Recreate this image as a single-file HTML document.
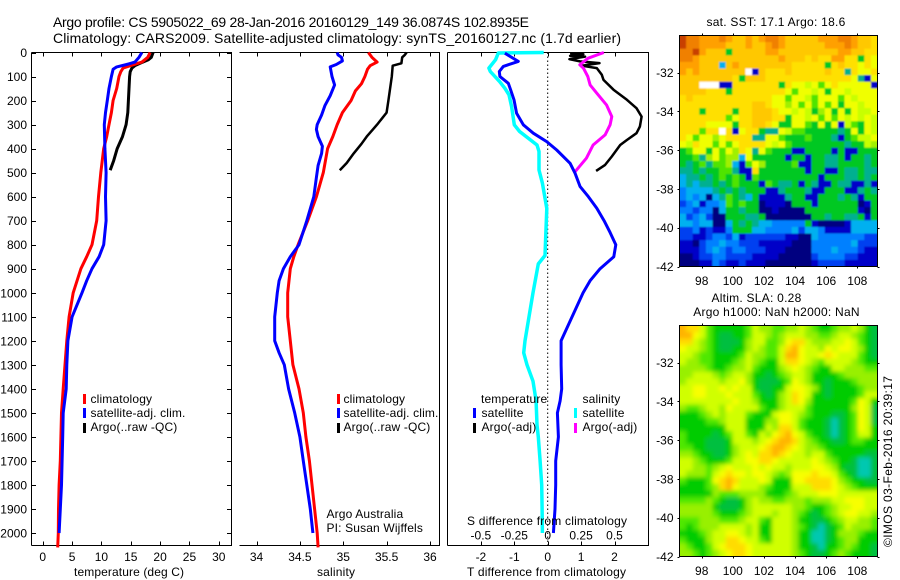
<!DOCTYPE html>
<html lang="en">
<head>
<meta charset="utf-8">
<title>Argo profile CS 5905022_69</title>
<style>
html,body{margin:0;padding:0;background:#fff;}
svg{display:block;font-family:"Liberation Sans",sans-serif;font-size:12px;fill:#000;}
.frame line,.tick{stroke:#000;stroke-width:1;shape-rendering:crispEdges;}
.title{font-size:14px;}
.wide{letter-spacing:0.25px;}
.leg{letter-spacing:0.15px;}
.trace{fill:none;stroke-linejoin:round;stroke-linecap:butt;}
</style>
</head>
<body>
<svg id="chart" xmlns="http://www.w3.org/2000/svg" width="900" height="580" viewBox="0 0 900 580">
  <defs>
    <clipPath id="sst-clip"><rect x="679.5" y="35.5" width="198" height="231"/></clipPath>
    <clipPath id="sla-clip"><rect x="679.5" y="325.5" width="198" height="231"/></clipPath>
    <filter id="sst-smooth" x="-10%" y="-10%" width="120%" height="120%"><feGaussianBlur stdDeviation="0.8"/></filter>
    <filter id="sla-smooth" x="-10%" y="-10%" width="120%" height="120%"><feGaussianBlur stdDeviation="2"/></filter>
  </defs>

  <text class="title" x="53" y="27" textLength="476" lengthAdjust="spacing">Argo profile: CS 5905022_69 28-Jan-2016 20160129_149 36.0874S 102.8935E</text>
  <text class="title" x="53" y="43" textLength="568" lengthAdjust="spacing">Climatology: CARS2009. Satellite-adjusted climatology: synTS_20160127.nc (1.7d earlier)</text>

  <g id="temp-panel"></g>
  <g id="sal-panel"></g>
  <g id="diff-panel"></g>

  <g clip-path="url(#sst-clip)"><g id="sst-cells" filter="url(#sst-smooth)"></g></g>
  <g clip-path="url(#sla-clip)"><g id="sla-cells" filter="url(#sla-smooth)"></g></g>
  <g id="map-axes"></g>

  <text x="74" y="576" textLength="110" lengthAdjust="spacing">temperature (deg C)</text>
  <text x="317" y="576" textLength="38" lengthAdjust="spacing">salinity</text>
  <text x="467" y="576" textLength="159" lengthAdjust="spacing">T difference from climatology</text>
  <text x="467" y="525" textLength="160" lengthAdjust="spacing">S difference from climatology</text>

  <g class="leg">
    <rect x="83" y="394" width="3" height="10" fill="#f00"/>
    <text x="90.5" y="403">climatology</text>
    <rect x="83" y="408" width="3" height="10" fill="#00f"/>
    <text x="90.5" y="417">satellite-adj. clim.</text>
    <rect x="83" y="423" width="3" height="10" fill="#000"/>
    <text x="90.5" y="431">Argo(..raw -QC)</text>
  </g>
  <g class="leg">
    <rect x="337" y="394" width="3" height="10" fill="#f00"/>
    <text x="343.5" y="403">climatology</text>
    <rect x="337" y="408" width="3" height="10" fill="#00f"/>
    <text x="343.5" y="417">satellite-adj. clim.</text>
    <rect x="337" y="423" width="3" height="10" fill="#000"/>
    <text x="343.5" y="431">Argo(..raw -QC)</text>
    <text x="326.5" y="518">Argo Australia</text>
    <text x="326.5" y="532">PI: Susan Wijffels</text>
  </g>
  <g class="leg">
    <text x="481" y="403">temperature</text>
    <rect x="473" y="408" width="3" height="10" fill="#00f"/>
    <text x="481.5" y="417">satellite</text>
    <rect x="473" y="423" width="3" height="10" fill="#000"/>
    <text x="481.5" y="431">Argo(-adj)</text>
    <text x="582.5" y="403">salinity</text>
    <rect x="574" y="408" width="3" height="10" fill="#0ff"/>
    <text x="582.5" y="417">satellite</text>
    <rect x="574" y="423" width="3" height="10" fill="#f0f"/>
    <text x="582.5" y="431">Argo(-adj)</text>
  </g>

  <text class="wide" x="776" y="26" text-anchor="middle">sat. SST: 17.1 Argo: 18.6</text>
  <text class="wide" x="756.5" y="302" text-anchor="middle">Altim. SLA: 0.28</text>
  <text class="wide" x="776.5" y="316" text-anchor="middle">Argo h1000: NaN h2000: NaN</text>
  <text transform="translate(892,547) rotate(-90)" textLength="171" lengthAdjust="spacing">©IMOS 03-Feb-2016 20:39:17</text>
</svg>

<script>
// ---- depth axis ----
var depthTicks = [0,100,200,300,400,500,600,700,800,900,1000,1100,1200,1300,1400,1500,1600,1700,1800,1900,2000];

// ---- temperature panel (deg C) ----
var tempTicks = [0,5,10,15,20,25,30];
var tempClimDepth = [0,20,40,55,65,80,100,150,200,250,300,350,400,500,600,700,800,850,900,1000,1100,1200,1300,1400,1500,1600,1700,1800,1900,2000,2060];
var tempClim = [18.3,17.9,16.9,14.9,13.7,13.3,13.0,12.6,12.0,11.7,11.3,10.9,10.4,9.9,9.5,9.2,8.4,7.5,6.5,5.2,4.5,4.1,3.8,3.5,3.2,3.1,3.0,2.8,2.7,2.66,2.55];
var tempSatDepth = [0,20,40,50,60,70,100,150,200,250,300,400,500,600,700,800,850,900,950,1000,1100,1200,1300,1400,1500,1600,1700,1800,1900,2000];
var tempSat = [16.9,16.4,15.7,14.3,12.6,12.0,11.7,11.3,11.0,10.7,10.5,10.6,10.8,10.7,10.8,10.4,9.6,8.4,7.5,6.7,5.0,4.3,4.1,4.0,3.5,3.4,3.3,3.2,3.0,2.8];
var tempArgoDepth = [0,20,30,45,55,65,80,100,150,200,250,300,350,400,450,490];
var tempArgo = [18.8,18.5,18.0,16.6,15.7,15.2,14.9,14.8,14.7,14.6,14.5,14.2,13.6,12.7,12.1,11.5];

// ---- salinity panel ----
var salTicks = [34,34.5,35,35.5,36];
var salClimDepth = [0,20,40,55,70,100,130,160,200,250,300,350,400,500,600,700,800,850,900,1000,1100,1200,1300,1400,1500,1600,1700,1800,1900,2000,2060];
var salClim = [35.29,35.33,35.39,35.31,35.28,35.25,35.21,35.14,35.09,34.99,34.93,34.88,34.82,34.77,34.69,34.59,34.48,34.43,34.39,34.36,34.36,34.39,34.42,34.49,34.54,34.57,34.61,34.64,34.67,34.70,34.71];
var salSatDepth = [0,10,20,35,50,60,100,135,180,220,260,300,320,350,390,420,470,520,600,700,800,850,900,950,1000,1100,1200,1250,1300,1400,1500,1600,1700,1800,1900,2000];
var salSat = [34.93,34.94,34.98,34.99,34.92,34.85,34.87,34.90,34.85,34.79,34.75,34.70,34.69,34.71,34.76,34.75,34.71,34.69,34.66,34.58,34.49,34.39,34.31,34.26,34.24,34.21,34.21,34.26,34.32,34.37,34.44,34.50,34.54,34.58,34.62,34.65];
var salArgoDepth = [0,10,20,45,55,100,150,200,250,300,350,380,420,460,490];
var salArgo = [35.73,35.71,35.68,35.67,35.57,35.56,35.54,35.52,35.50,35.39,35.27,35.21,35.12,35.04,34.96];

// ---- difference panel ----
var diffTTicks = [-2,-1,0,1,2];
var diffSTicks = [-0.5,-0.25,0,0.25,0.5];
var diffTSatDepth = [3,37,58,79,100,128,155,197,253,301,336,371,406,461,503,558,600,648,700,750,800,850,900,950,1000,1100,1200,1300,1400,1450,1500,1600,1700,1800,1900,2000];
var diffTSat = [-1.28,-0.88,-1.33,-1.45,-1.43,-1.18,-1.11,-1.01,-0.93,-0.73,-0.43,-0.03,0.27,0.67,0.82,0.97,1.22,1.47,1.69,1.87,2.04,1.98,1.57,1.27,1.06,0.73,0.40,0.40,0.42,0.37,0.29,0.32,0.24,0.24,0.22,0.17];
var diffTArgoDepth = [3,7,14,17,28,37,44,55,65,93,114,155,197,232,267,308,336,364,385,433,468,493];
var diffTArgo = [0.67,1.07,0.67,1.12,0.65,0.97,1.55,1.02,1.47,1.62,1.67,1.97,2.37,2.66,2.81,2.76,2.66,2.37,2.17,1.92,1.72,1.45];
var diffSSatDepth = [0,2,30,65,79,121,149,176,225,301,329,357,385,412,489,544,649,845,880,1000,1100,1200,1250,1300,1368,1450,1550,1600,1700,1800,1900,2000];
var diffSSat = [-0.03,-0.37,-0.39,-0.44,-0.43,-0.36,-0.32,-0.29,-0.27,-0.25,-0.21,-0.145,-0.08,-0.065,-0.065,-0.04,-0.007,-0.02,-0.07,-0.11,-0.14,-0.17,-0.18,-0.155,-0.11,-0.087,-0.08,-0.07,-0.057,-0.045,-0.042,-0.04];
var diffSArgoDepth = [0,24,51,65,100,135,169,218,267,301,343,385,440,496];
var diffSArgo = [0.42,0.30,0.24,0.267,0.30,0.317,0.367,0.44,0.48,0.467,0.43,0.34,0.29,0.205];

// ---- maps: each row holds one colour-class digit per grid cell ----
var lonTicks = [98,100,102,104,106,108];
var latTicks = [-32,-34,-36,-38,-40,-42];
var sstColors = {0:'#000080',1:'#0000c8',2:'#0040f0',3:'#0080ff',4:'#00b0f0',5:'#00b090',6:'#00c820',7:'#50e400',8:'#a0f000',9:'#c8ff00',a:'#f0ff00',b:'#ffe000',c:'#ffc800',d:'#ffa000',e:'#f08000',f:'#c84000',W:'#ffffff'};
var slaColors = {4:'#00c8b0',5:'#00bf40',6:'#00cc00',7:'#50e800',8:'#98f000',9:'#d0ff00',a:'#f8ff00',b:'#ffdc00',c:'#ffb400'};
var sstRows = [
"feedd dedcc dcdee dcccc cddde edccb",
"feedd ddccc dccde dcccc ccddd edccb",
"eefdc cc6cc cccdd ccccc ccccd dccbb",
"eedcc ccccc ccccc dcccb cbbdd bb6ba",
"dddcc c4cdc ccccc ccbbb bb6bc bbaba",
"dcdcc ccccc W1cbb bcbbb bbcbb 5baab",
"ccccc cccb6 cccbb bbbbb bbbbb ba51a",
"cccWW W11bb bbbbb 6baa9 a7aba aaaa1",
"ccccb bb6bb bbbbb ba7aa 9a6aa 9aaaa",
"bcbbb bbbbb bbbba a7aa9 7aaa7 a9aaa",
"bbbbb bbbbb bccba a8a7a 7a7a6 aa9aa",
"bbb6b bbb6b bcccb aa9a9 68a6a 6a99a",
"bbbbb bb7ab bcccb b6aa9 a7a7a 9a9a9",
"bbbba aaa6b bccba 66aa7 6a6a1 976a9",
"bbb7b bWb1a bb655 a9776 66665 6a6a9",
"ba7aa 8abbb b55aa 76667 66651 6799a",
"a9baa 7a7ab bbba9 a7666 66666 56698",
"67aa6 a7a8b a5a76 66116 66616 11666",
"66758 a7884 a6666 61661 66556 16656",
"65675 77841 7a866 66711 66556 66656",
"55656 67751 1b666 66661 66116 55655",
"45565 67676 17666 66666 61666 55656",
"45455 65676 66176 55616 51165 51151",
"34444 56565 66611 56665 11666 11565",
"34340 45765 46111 15661 16665 65166",
"23413 34767 66011 10666 16666 66016",
"33233 04665 66001 00006 66666 66106",
"42342 00666 55600 00000 66566 55616",
"44344 00465 65443 33336 10000 14444",
"22312 11366 64433 33424 43111 14444",
"22112 33241 22222 21100 43333 33322",
"11023 34332 22111 11000 33333 34222",
"11123 43233 22211 10000 33343 33211",
"00122 33222 21111 00000 23333 22111",
"00011 32112 11100 00000 12222 11111"
];
var slaRows = [
"cbb97 66666 79887 78898 76678 89865",
"cca97 65566 79987 89998 87789 98765",
"bb987 65556 89977 8abb9 88899 a9765",
"a9987 65566 89877 9bca9 98a9a a9865",
"99877 66667 98877 9cca9 9aba9 99765",
"98877 66678 98766 9bba9 87999 98766",
"88887 66788 97666 89a98 76699 88877",
"88999 87899 86656 78998 66667 88888",
"89999 9899a 86555 67a98 66566 67888",
"99aa9 9a9a9 96556 69aa9 86566 66788",
"99aa9 99a99 97656 89ba9 66566 66799",
"99999 999a9 98666 89ba8 66666 67a96",
"87789 98a99 99766 89997 66666 68a95",
"66678 98999 76669 aa987 66655 67a95",
"66667 78999 66688 aa976 66545 67a95",
"66666 66999 66698 bb976 66545 67a96",
"76666 56799 7698a bca97 66545 67996",
"76665 55699 989ab ccb98 76655 67766",
"77665 55689 99abc cba98 87666 66666",
"88766 55689 a9bbc ba998 99766 66655",
"99876 66799 aabba 99999 a9876 65445",
"99887 89a99 9a9a9 98999 aa986 55445",
"98887 9abaa 9aa98 78aaa baa97 65445",
"76667 abcb9 99a96 66aab bbba8 76655",
"66667 8bca9 99876 66999 bbba9 87666",
"66666 87778 88866 67899 9aaa9 99999",
"77778 76556 89887 78887 88899 aaa99",
"88888 65556 89999 99887 66789 9aa99",
"88888 76667 89998 99876 56789 aa998",
"77788 87778 99769 99866 55678 99887",
"76788 89999 89669 99876 54567 98887",
"66678 99aa9 89669 99866 44568 88766",
"76668 99bba 99769 99866 44567 88666",
"87667 9abbb a9999 99866 54667 87665",
"88767 89abb a9999 99876 55678 76665"
];

// ---- helpers ----
var NS = 'http://www.w3.org/2000/svg';
function make(tag, parent, attrs) {
  var e = document.createElementNS(NS, tag);
  for (var k in attrs) e.setAttribute(k, attrs[k]);
  parent.appendChild(e);
  return e;
}
function linear(v0, p0, v1, p1) { return function (v) { return p0 + (v - v0) * (p1 - p0) / (v1 - v0); }; }
var depthY = linear(0, 52.5, 2000, 533);
var tempX = linear(0, 42.7, 30, 218.8);
var salX = linear(34, 256.5, 36, 430);
var diffTX = linear(-2, 480.9, 2, 614.5);
var diffSX = linear(-0.5, 480.9, 0.5, 614.5);
var PANEL_TOP = 52.5, PANEL_BOTTOM = 545.5;

function drawFrame(g, left, right, hasLeftSpine) {
  var top = make('line', g, {x1: left, x2: right + 0.5, y1: PANEL_TOP, y2: PANEL_TOP, class: 'tick'});
  
  
  var bottom = make('line', g, {x1: left, x2: right + 0.5, y1: PANEL_BOTTOM, y2: PANEL_BOTTOM, class: 'tick'});
  
  
  var rightLine = make('line', g, {x1: right, x2: right, y1: PANEL_TOP, y2: PANEL_BOTTOM, class: 'tick'});
  
  
  if (hasLeftSpine) {
    var leftLine = make('line', g, {x1: left, x2: left, y1: PANEL_TOP, y2: PANEL_BOTTOM, class: 'tick'});
    
    
  }
}
function drawXTicks(g, ticks, scale, labels, baseline) {
  ticks.forEach(function (t, i) {
    var x = Math.round(scale(t)) + 0.5;
    var a = make('line', g, {x1: x, x2: x, y1: PANEL_TOP, y2: PANEL_TOP + 4, class: 'tick'});
    
    
    var b = make('line', g, {x1: x, x2: x, y1: PANEL_BOTTOM - 4, y2: PANEL_BOTTOM, class: 'tick'});
    
    
    var l = make('text', g, {x: scale(t), y: baseline, 'text-anchor': 'middle'});
    l.textContent = labels[i];
    
    
  });
}
function drawTrace(g, depths, values, scale, color, width, name) {
  var pts = depths.map(function (d, i) { return scale(values[i]).toFixed(1) + ',' + depthY(d).toFixed(1); }).join(' ');
  var line = make('polyline', g, {points: pts, stroke: color, 'stroke-width': width, class: 'trace'});
  
  
}

// ---- temperature panel ----
var tg = document.getElementById('temp-panel');
drawFrame(tg, 31.5, 231.5, true);
drawXTicks(tg, tempTicks, tempX, tempTicks.map(String), 561);
depthTicks.forEach(function (d) {
  var y = Math.round(depthY(d)) + 0.5;
  var a = make('line', tg, {x1: 31.5, x2: 36, y1: y, y2: y, class: 'tick'});
  
  
  var b = make('line', tg, {x1: 227, x2: 231.5, y1: y, y2: y, class: 'tick'});
  
  
  var l = make('text', tg, {x: 27, y: depthY(d) + 4.5, 'text-anchor': 'end'});
  l.textContent = d;
  
  
});
drawTrace(tg, tempArgoDepth, tempArgo, tempX, '#000', 3, 'temperature-argo-line');
drawTrace(tg, tempClimDepth, tempClim, tempX, '#f00', 3, 'temperature-climatology-line');
drawTrace(tg, tempSatDepth, tempSat, tempX, '#00f', 3, 'temperature-satellite-line');

// ---- salinity panel ----
var sg = document.getElementById('sal-panel');
drawFrame(sg, 239.5, 439.5, false);
drawXTicks(sg, salTicks, salX, ['34','34.5','35','35.5','36'], 561);
drawTrace(sg, salArgoDepth, salArgo, salX, '#000', 2.5, 'salinity-argo-line');
drawTrace(sg, salClimDepth, salClim, salX, '#f00', 3, 'salinity-climatology-line');
drawTrace(sg, salSatDepth, salSat, salX, '#00f', 3, 'salinity-satellite-line');

// ---- difference panel ----
var dg = document.getElementById('diff-panel');
drawFrame(dg, 447.5, 648.5, true);
drawXTicks(dg, diffTTicks, diffTX, diffTTicks.map(String), 561);
diffSTicks.forEach(function (t) {
  var l = make('text', dg, {x: diffSX(t), y: 539.5, 'text-anchor': 'middle'});
  l.textContent = String(t);
  
  
});
var zero = make('line', dg, {x1: diffTX(0), x2: diffTX(0), y1: PANEL_TOP, y2: PANEL_BOTTOM, stroke: '#000', 'stroke-width': 1, 'stroke-dasharray': '1.5 2.5'});


drawTrace(dg, diffTArgoDepth, diffTArgo, diffTX, '#000', 2.5, 't-difference-argo-line');
drawTrace(dg, diffSSatDepth, diffSSat, diffSX, '#0ff', 3.5, 's-difference-satellite-line');
drawTrace(dg, diffSArgoDepth, diffSArgo, diffSX, '#f0f', 3, 's-difference-argo-line');
drawTrace(dg, diffTSatDepth, diffTSat, diffTX, '#00f', 3, 't-difference-satellite-line');

// ---- maps ----
var MAP_LEFT = 679.5, MAP_RIGHT = 877.5;
function drawCells(groupId, rows, colors, top, bottom) {
  var g = document.getElementById(groupId);
  var h = (bottom - top) / rows.length;
  rows.forEach(function (rawRow, r) {
    var row = rawRow.replace(/ /g, '');
    var w = (MAP_RIGHT - MAP_LEFT) / row.length;
    for (var c = 0; c < row.length; c++) {
      var x = MAP_LEFT + c * w, y = top + r * h, cw = w + 0.4, ch = h + 0.4;
      if (c === 0) { x -= 12; cw += 12; }
      if (c === row.length - 1) { cw += 12; }
      if (r === 0) { y -= 12; ch += 12; }
      if (r === rows.length - 1) { ch += 12; }
      var cell = make('rect', g, {x: x.toFixed(2), y: y.toFixed(2), width: cw.toFixed(2), height: ch.toFixed(2), fill: colors[row.charAt(c)] || '#fff'});
      
      
    }
  });
}
drawCells('sst-cells', sstRows, sstColors, 35.5, 266.5);
drawCells('sla-cells', slaRows, slaColors, 325.5, 556.5);

var lonX = linear(98, 701.7, 108, 857.3);
function drawMapAxes(top, bottom, lat32Y, labelBaseline) {
  var g = document.getElementById('map-axes');
  var latY = linear(-32, lat32Y, -42, bottom);
  var box = make('rect', g, {x: MAP_LEFT, y: top, width: MAP_RIGHT - MAP_LEFT, height: bottom - top, fill: 'none', stroke: '#000', 'stroke-width': 1, 'shape-rendering': 'crispEdges'});
  
  
  lonTicks.forEach(function (t) {
    var x = Math.round(lonX(t)) + 0.5;
    var a = make('line', g, {x1: x, x2: x, y1: top - 2, y2: top, class: 'tick'});
    
    
    var b = make('line', g, {x1: x, x2: x, y1: bottom, y2: bottom + 2, class: 'tick'});
    
    
    var l = make('text', g, {x: lonX(t), y: labelBaseline, 'text-anchor': 'middle'});
    l.textContent = t;
    
    
  });
  latTicks.forEach(function (t) {
    var y = Math.round(latY(t)) + 0.5;
    var a = make('line', g, {x1: MAP_LEFT - 2, x2: MAP_LEFT, y1: y, y2: y, class: 'tick'});
    
    
    var b = make('line', g, {x1: MAP_RIGHT, x2: MAP_RIGHT + 2, y1: y, y2: y, class: 'tick'});
    
    
    var l = make('text', g, {x: 673.5, y: latY(t) + 4.5, 'text-anchor': 'end'});
    l.textContent = t;
    
    
  });
}
drawMapAxes(35.5, 266.5, 72.5, 285);
drawMapAxes(325.5, 556.5, 362.5, 575);
</script>
</body>
</html>
